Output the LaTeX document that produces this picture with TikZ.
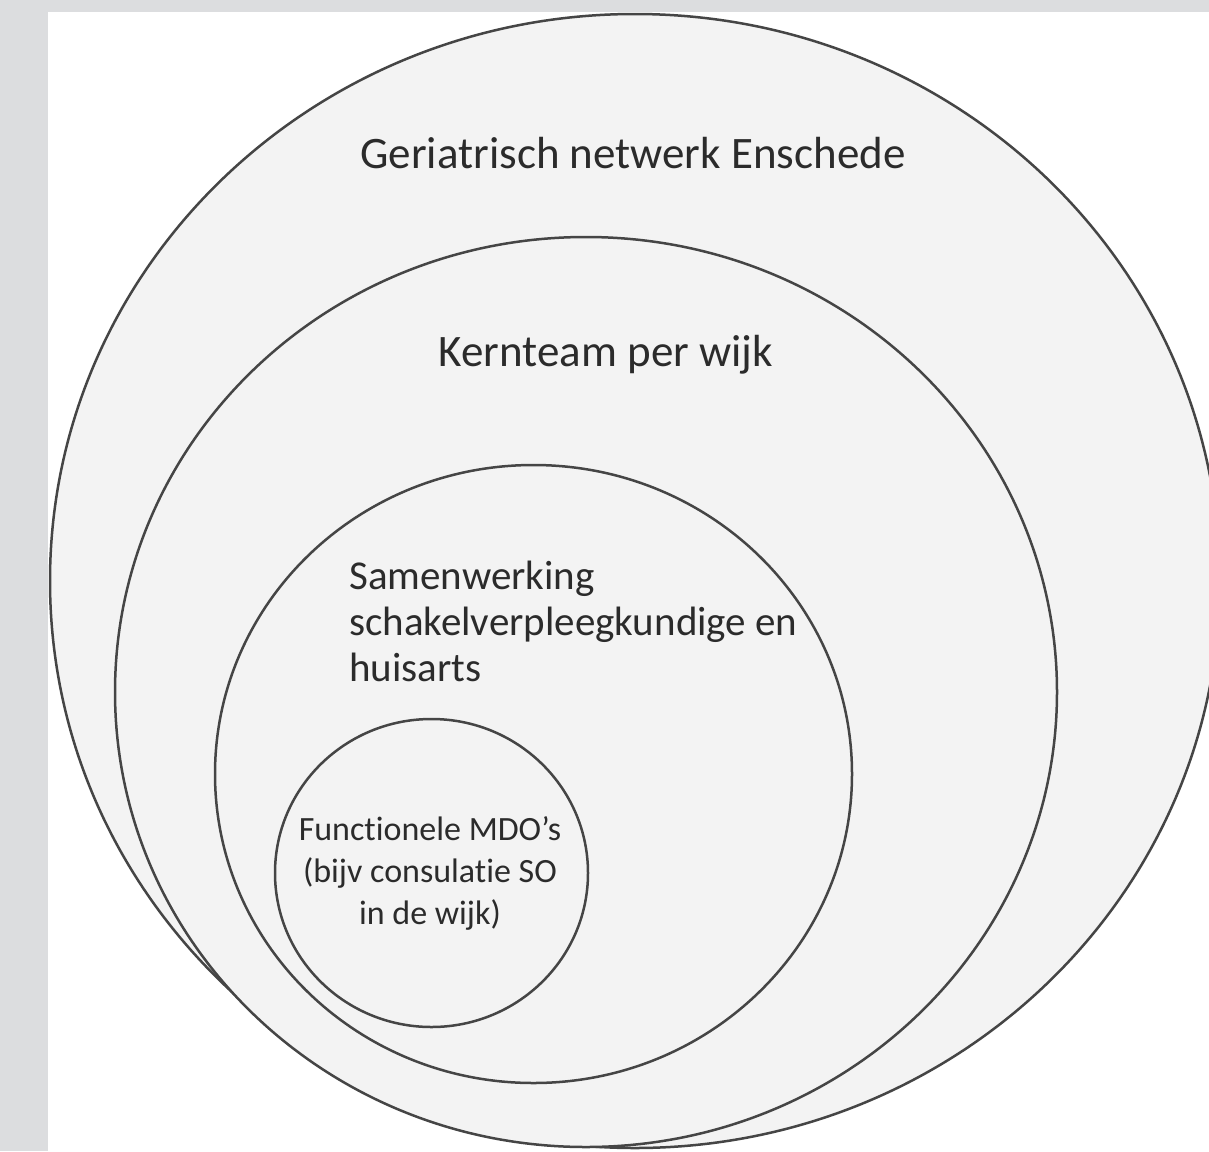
\documentclass[tikz,border=0pt]{standalone}
\usepackage{fontspec}
\setmainfont[Ligatures=NoCommon]{Carlito}
\definecolor{bandgrey}{HTML}{DCDDDF}
\definecolor{circfill}{HTML}{F3F3F3}
\definecolor{circline}{HTML}{454545}
\definecolor{txt}{HTML}{2B2B2B}
\begin{document}
\begin{tikzpicture}[x=1pt,y=-1pt,
  ring/.style={draw=circline,line width=2.5pt,fill=circfill},
  lbl/.style={text=txt,inner sep=0pt,align=center}]
\useasboundingbox (0,0) rectangle (1209,1151);
\fill[white] (0,0) rectangle (1209,1151);
\fill[bandgrey] (0,0) rectangle (1209,12);
\fill[bandgrey] (0,0) rectangle (48,1151);
\begin{scope}
\clip (48,12) rectangle (1209,1151);
% outer ring
\draw[ring] (635,581) ellipse [x radius=585pt, y radius=567pt];
% second ring
\draw[ring] (586,692) ellipse [x radius=471pt, y radius=455pt];
% third ring
\draw[ring] (533.5,774) ellipse [x radius=318.5pt, y radius=309pt];
% inner ring
\draw[ring] (431.5,873) ellipse [x radius=156.5pt, y radius=154pt];
\end{scope}
\node[lbl,font=\fontsize{45}{52}\selectfont] (geri) at (633,153) {Geriatrisch netwerk Enschede};
\node[lbl,font=\fontsize{45}{52}\selectfont] (kern) at (606,355) {Kernteam per wijk};
\node[lbl,align=left,anchor=north west,font=\fontsize{41}{46}\selectfont] (samen) at (349,561)
  {Samenwerking\\schakelverpleegkundige en\\huisarts};
\node[lbl,font=\fontsize{34}{42}\selectfont] (func) at (430,873)
  {Functionele MDO’s\\(bijv consulatie SO\\in de wijk)};
\end{tikzpicture}
\end{document}
